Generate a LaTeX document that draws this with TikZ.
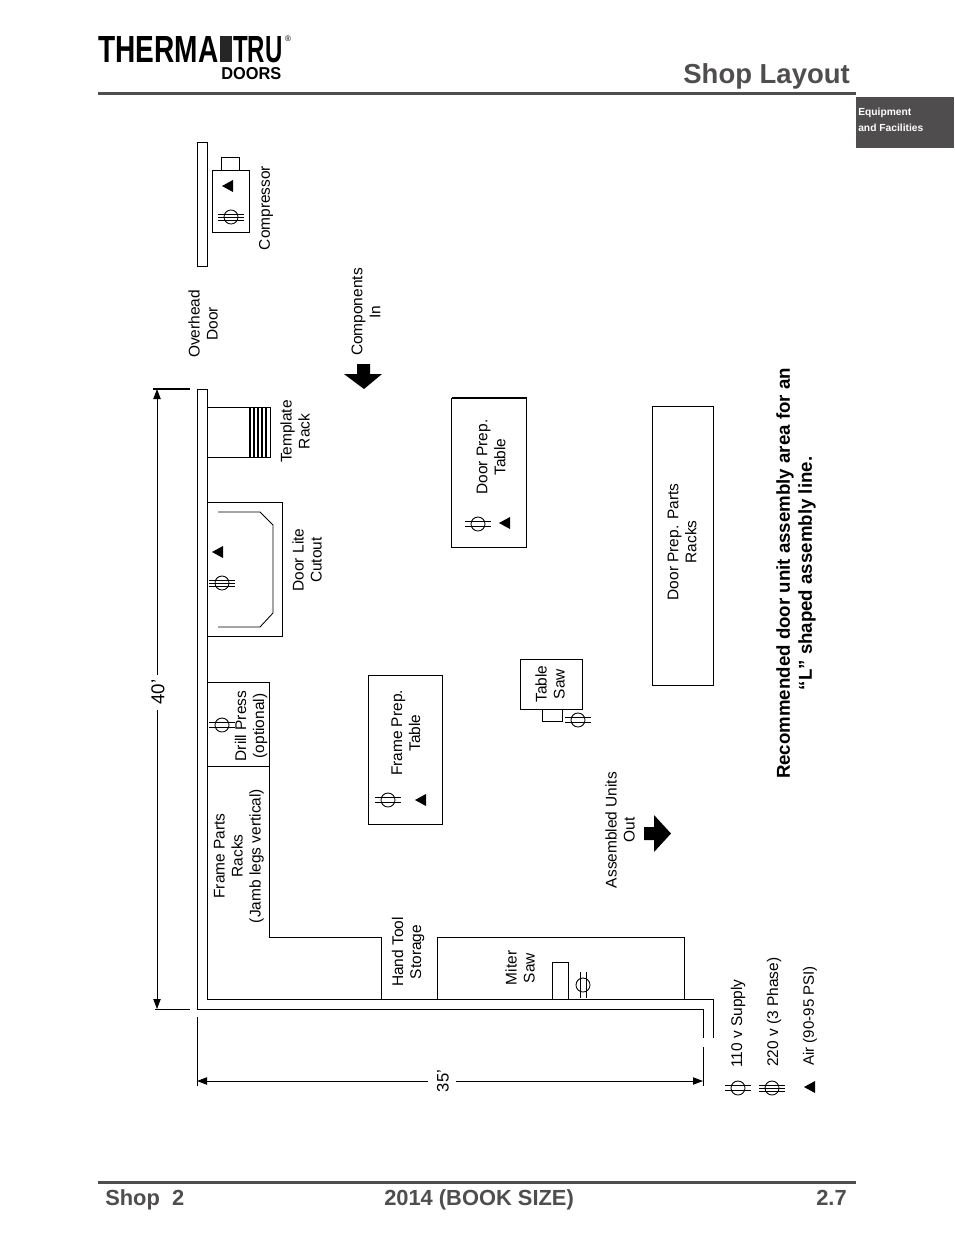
\documentclass[tikz,border=0pt]{standalone}
\usepackage{fontspec}
\setmainfont{Liberation Sans}
\usepackage{graphicx}
\usetikzlibrary{arrows.meta}
\definecolor{headgray}{HTML}{4F4D4E}
\tikzset{
  wall/.style={line width=0.7pt,black},
  fixture/.style={line width=0.65pt,black},
  lbl/.style={rotate=90,align=center,inner sep=0pt,font=\fontsize{11.6}{13.5}\selectfont},
  headtxt/.style={inner sep=0pt,font=\bfseries\fontsize{16.4}{18}\selectfont,text=headgray,anchor=base west},
  dimtip/.style={-{Triangle[length=7.5pt,width=5.5pt]}},
}
\begin{document}
\begin{tikzpicture}[x=0.75pt,y=-0.75pt]
  \useasboundingbox (0,0) rectangle (954,1235);
  \fill[white] (0,0) rectangle (954,1235);

  % logo
  \node[anchor=north west,inner sep=0pt] (logoa) at (98,36) {\resizebox{90pt}{19.5pt}{\bfseries THERMA}};
  \fill[black!85] (220,36) rectangle (232,62);
  \node[anchor=north west,inner sep=0pt] (logob) at (233,36) {\resizebox{37pt}{19.5pt}{\bfseries TRU}};
  \node[anchor=north west,inner sep=0pt] (logoc) at (221,67) {\resizebox{45pt}{9pt}{\bfseries DOORS}};
  \node[inner sep=0pt,font=\fontsize{6}{6}\selectfont] (logor) at (288,39) {®};

  % header and footer
  \node[anchor=base east,inner sep=0pt,text=headgray,font=\bfseries\fontsize{20.6}{24}\selectfont] (title) at (850,83) {Shop Layout};
  \fill[headgray] (98,91.5) rectangle (856,94.5);
  \fill[headgray] (856,97) rectangle (954,148);
  \node[anchor=west,inner sep=0pt,text=white,font=\bfseries\fontsize{7.7}{12}\selectfont,align=left] (tab) at (858,120) {Equipment\\and Facilities};
  \fill[headgray] (98,1180.5) rectangle (856,1184);
  \node[headtxt] (footl) at (105,1205) {Shop\ \ 2};
  \node[headtxt] (footm) at (384,1205) {2014 (BOOK SIZE)};
  \node[headtxt] (footr) at (816,1205) {2.7};

  % walls
  \draw[wall] (703,1038) -- (703,1009) -- (197,1009) -- (197,389) -- (207,389) -- (207,999) -- (713,999) -- (713,1038);

  % 40' dimension
  \draw[line width=1pt] (153,389) -- (190,389);
  \draw[fixture] (155,1009) -- (190,1009);
  \node[lbl,font=\fontsize{14}{16}\selectfont] (dimh) at (158,692) {40'};
  \draw[fixture,dimtip] (157,675) -- (157,389);
  \draw[fixture,dimtip] (157,710) -- (157,1009);

  % 35' dimension
  \draw[fixture] (197,1017) -- (197,1086);
  \draw[fixture] (703,1047) -- (703,1086);
  \node[lbl,font=\fontsize{12.5}{15}\selectfont] (dimw) at (443,1081) {35'};
  \draw[fixture,dimtip] (428,1081) -- (197,1081);
  \draw[fixture,dimtip] (456,1081) -- (703,1081);

  % compressor
  \draw[fixture] (197,142) rectangle (207,266);
  \draw[fixture] (212,170) rectangle (249,232);
  \draw[fixture] (221,157) rectangle (239,170);

  % template rack
  \draw[fixture] (207,407) -- (270,407) -- (270,457) -- (207,457);
  \foreach \x in {250,254,258,262,266} {
    \draw[line width=0.9pt] (\x,407) -- (\x,457);
  }

  % door lite cutout
  \draw[fixture] (207,502) -- (282,502) -- (282,636) -- (207,636);
  \draw[fixture] (218,512) -- (260,512) -- (273,525) -- (273,613) -- (260,627) -- (218,627);

  % racks along the wall
  \draw[fixture] (207,682) -- (269,682) -- (269,937) -- (381,937) -- (381,999);
  \draw[fixture] (207,766) -- (269,766);

  % miter saw
  \draw[fixture] (437,999) -- (437,937) -- (684.5,937) -- (684.5,999);
  \draw[fixture] (552,999) -- (552,962) -- (568,962) -- (568,999);

  % tables
  \draw[fixture] (368,675) rectangle (442,824);
  \draw[fixture] (451.5,398) rectangle (526.5,547);
  \draw[line width=1.3pt] (451.5,398) -- (526.5,398);
  \draw[fixture] (652,406) rectangle (713,685);
  \draw[fixture] (520.5,659) rectangle (582,709);
  \draw[fixture] (542,709) rectangle (562,721);

  % air outlets
  \foreach \x/\y in {228/186, 218/552, 421/800, 505/523, 810/1087} {
    \fill[black] (\x-6,\y) -- (\x+5,\y-6) -- (\x+5,\y+6) -- cycle;
  }

  % 110 v outlets, lines across
  \foreach \x/\y in {222/725, 388/800, 478/524, 578/720, 738/1088} {
    \draw[fixture] (\x,\y) circle (7);
    \draw[fixture] (\x-13,\y-2.5) -- (\x+13,\y-2.5);
    \draw[fixture] (\x-13,\y+2.5) -- (\x+13,\y+2.5);
  }
  % the one at the miter saw stands upright
  \draw[fixture] (583,985) circle (7);
  \draw[fixture] (580,972) -- (580,998);
  \draw[fixture] (586,972) -- (586,998);

  % 220 v outlets
  \foreach \x/\y in {231/217, 222/583, 772/1088} {
    \draw[fixture] (\x,\y) circle (7);
    \foreach \d in {-3,0,3} {
      \draw[fixture] (\x-13,\y+\d) -- (\x+13,\y+\d);
    }
  }

  % block arrows
  \fill[black] (357,364) -- (370,364) -- (370,374) -- (382,374) -- (364,389) -- (344,374) -- (357,374) -- cycle;
  \fill[black] (644,827) -- (654,827) -- (654,815) -- (671,833.5) -- (654,852) -- (654,840) -- (644,840) -- cycle;

  % labels
  \node[lbl] (compressor) at (266,208) {Compressor};
  \node[lbl] (overhead) at (203,324) {Overhead\\Door};
  \node[lbl] (components) at (366,312) {Components\\In};
  \node[lbl] (template) at (295,431.5) {Template\\Rack};
  \node[lbl] (doorlite) at (307,560) {Door Lite\\Cutout};
  \node[lbl] (drill) at (251,726) {Drill Press\\(optional)};
  \node[lbl] (frameparts) at (239,856) {Frame Parts\\Racks\\(Jamb legs vertical)};
  \node[lbl] (handtool) at (408,952) {Hand Tool\\Storage};
  \node[lbl] (miter) at (520,968) {Miter\\Saw};
  \node[lbl] (frameprep) at (406,733) {Frame Prep.\\Table};
  \node[lbl] (doorprep) at (491,457) {Door Prep.\\Table};
  \node[lbl] (doorparts) at (682,542) {Door Prep. Parts\\Racks};
  \node[lbl] (tablesaw) at (550,684) {Table\\Saw};
  \node[lbl] (assembled) at (620,830) {Assembled Units\\Out};
  \node[lbl,anchor=west] (leg110) at (738,1068) {110 v Supply};
  \node[lbl,anchor=west] (leg220) at (774,1067) {220 v (3 Phase)};
  \node[lbl,anchor=west,font=\fontsize{11.3}{13}\selectfont] (legair) at (810,1066) {Air (90-95 PSI)};
  \node[lbl,font=\bfseries\fontsize{14}{16.5}\selectfont] (note) at (796,573.5) {Recommended door unit assembly area for an\\“L” shaped assembly line.};
\end{tikzpicture}
\end{document}
